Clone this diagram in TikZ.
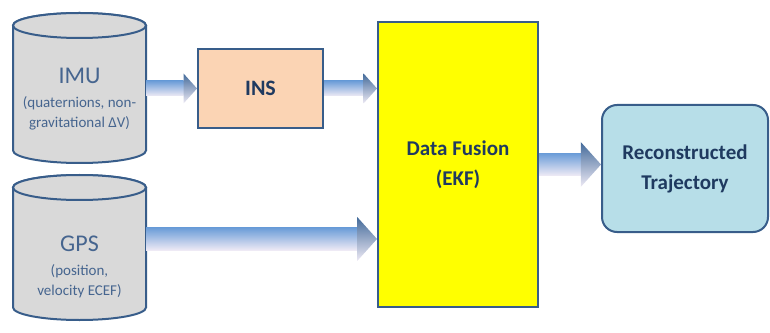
\documentclass[tikz,border=0pt]{standalone}
\usepackage{fontspec}
\setmainfont{Carlito}
\usepackage{tikz}
\usetikzlibrary{calc}

\definecolor{boxline}{HTML}{385D8A}
\definecolor{dbfill}{HTML}{D9D9D9}
\definecolor{dbtext}{HTML}{46658F}
\definecolor{navytext}{HTML}{1F3A60}
\definecolor{insfill}{HTML}{FBD4B4}
\definecolor{fusionfill}{HTML}{FFFF00}
\definecolor{trajfill}{HTML}{B7DEE8}
\definecolor{arrowtop}{HTML}{6C9DD8}
\definecolor{arrowmid}{HTML}{95C8F6}
\definecolor{arrowbot}{HTML}{EEEAF5}

% block arrow: from, to, shaft half height, head half height
\newcommand{\blockarrow}[4]{%
    \shade[flowarrow] let \p1=(#1), \p2=(#2) in
        (\x1,{\y1+#3pt}) -- ({\x2-0.9*#4pt},{\y1+#3pt}) --
        ({\x2-0.9*#4pt},{\y1-#3pt}) -- (\x1,{\y1-#3pt}) -- cycle;
    \shade[flowhead] let \p1=(#1), \p2=(#2) in
        ({\x2-0.9*#4pt},{\y1+#4pt}) -- (\x2,\y1) --
        ({\x2-0.9*#4pt},{\y1-#4pt}) -- cycle;
}

\begin{document}
\begin{tikzpicture}[x=1pt, y=1pt,
        dbshape/.style={draw=boxline, line width=2pt, fill=dbfill},
        dbtext/.style={text=dbtext, align=center, inner sep=0pt, minimum width=133pt,
            font=\fontsize{15}{20}\selectfont},
        block/.style={draw=boxline, line width=2pt, inner sep=0pt, align=center,
            text=navytext, font=\fontsize{21}{30}\selectfont\bfseries},
        flowarrow/.style={top color=arrowtop, middle color=arrowmid, bottom color=arrowbot},
        flowhead/.style={top color=boxline!80!arrowtop, middle color=arrowmid, bottom color=arrowbot}
    ]

    \useasboundingbox (0,0) rectangle (770,332);

    % IMU database
    \draw[dbshape] (13,306.5) -- (13,181.5)
        arc[start angle=180, end angle=360, x radius=66.5, y radius=12.5]
        -- (146,306.5)
        arc[start angle=0, end angle=180, x radius=66.5, y radius=12.5] -- cycle;
    \draw[dbshape] (79.5,306.5) ellipse[x radius=66.5, y radius=12.5];
    \node[dbtext] (imu) at (79.5,233) {%
        {\fontsize{24}{26}\selectfont IMU}\\[4pt]
        (quaternions, non-\\gravitational ΔV)};

    % GPS database
    \draw[dbshape] (13,144.5) -- (13,24.5)
        arc[start angle=180, end angle=360, x radius=66.5, y radius=12.5]
        -- (146,144.5)
        arc[start angle=0, end angle=180, x radius=66.5, y radius=12.5] -- cycle;
    \draw[dbshape] (79.5,144.5) ellipse[x radius=66.5, y radius=12.5];
    \node[dbtext] (gps) at (79.5,65) {%
        {\fontsize{24}{26}\selectfont GPS}\\[4pt]
        (position,\\velocity ECEF)};

    % processing blocks
    \node[block, fill=insfill, minimum width=125pt, minimum height=79pt,
        font=\fontsize{22}{26}\selectfont\bfseries] (ins) at (260.5,243.5) {INS};
    \node[block, fill=fusionfill, minimum width=160pt, minimum height=285pt]
        (fusion) at (458,167.5) {Data Fusion\\(EKF)};
    \node[block, fill=trajfill, rounded corners=15pt, minimum width=166pt,
        minimum height=127pt] (traj) at (685,163.5) {Reconstructed\\Trajectory};

    % flow arrows
    \blockarrow{imu.east |- ins.west}{ins.west}{7.5}{15}
    \blockarrow{ins.east}{fusion.west |- ins.east}{7.5}{15}
    \blockarrow{gps.east |- 0,93}{fusion.west |- 0,93}{11}{22}
    \blockarrow{fusion.east}{traj.west |- fusion.east}{11}{22.5}

\end{tikzpicture}
\end{document}
